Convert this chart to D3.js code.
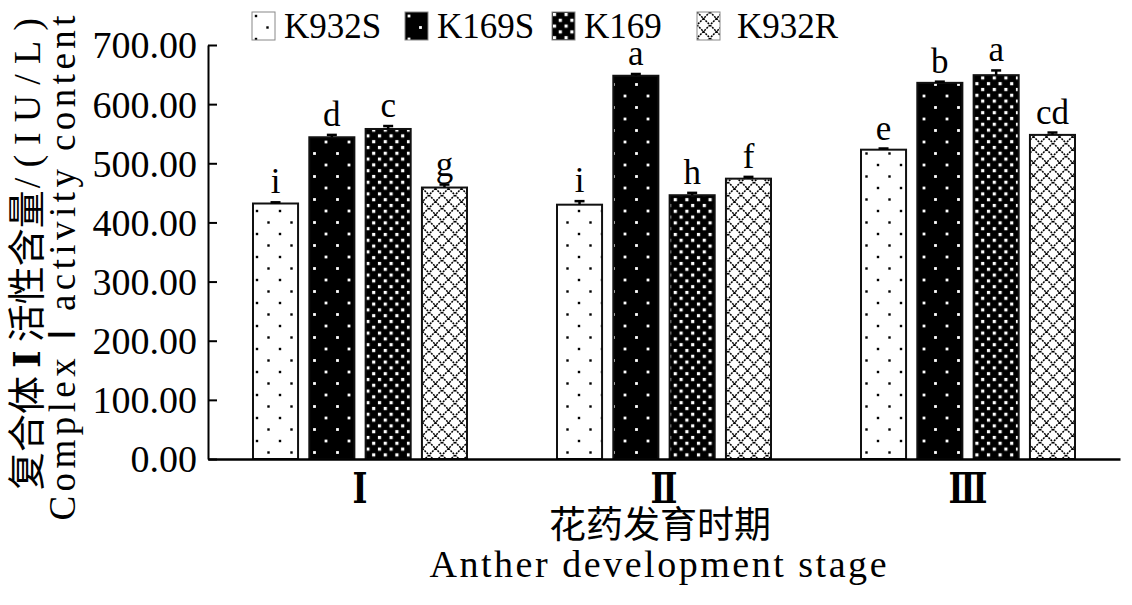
<!DOCTYPE html>
<html><head><meta charset="utf-8">
<script src="https://cdn.jsdelivr.net/npm/d3@7"></script>
<style>body{margin:0;background:#fff}</style>
</head><body>
<svg id="c" width="1132" height="605"></svg>
<script>
const categories = ["Ⅰ","Ⅱ","Ⅲ"];
const series = ["K932S","K169S","K169","K932R"];
const valuesK932S = [432, 430, 523];
const valuesK169S = [544, 648, 636];
const valuesK169 = [558, 446, 649];
const valuesK932R = [459, 474, 548];
const errK932S = [2, 6, 2];
const errK169S = [4, 3, 2];
const errK169 = [5, 4, 8];
const errK932R = [5, 3, 4];
const lettersK932S = ["i","i","e"];
const lettersK169S = ["d","a","b"];
const lettersK169 = ["c","h","a"];
const lettersK932R = ["g","f","cd"];
const yTicks = [0,100,200,300,400,500,600,700];

const valuesBySeries = {K932S: valuesK932S, K169S: valuesK169S, K169: valuesK169, K932R: valuesK932R};
const errBySeries = {K932S: errK932S, K169S: errK169S, K169: errK169, K932R: errK932R};
const lettersBySeries = {K932S: lettersK932S, K169S: lettersK169S, K169: lettersK169, K932R: lettersK932R};

const svg = d3.select("#c");
const defs = svg.append("defs");

// patterns
function dotPattern(id, size, bg, fg, r, pts) {
  const p = defs.append("pattern").attr("id", id).attr("patternUnits","userSpaceOnUse")
    .attr("width", size).attr("height", size);
  p.append("rect").attr("width", size).attr("height", size).attr("fill", bg);
  pts.forEach(([px,py]) => p.append("rect").attr("x", px - r/2).attr("y", py - r/2)
    .attr("width", r).attr("height", r).attr("fill", fg));
}
dotPattern("pK932S", 23, "#fff", "#000", 2.4, [[4,4],[15.5,15.5]]);
dotPattern("pK169S", 23, "#000", "#fff", 2.8, [[4,4],[15.5,15.5]]);
dotPattern("pK169", 11.6, "#000", "#fff", 3.2, [[2.5,2.5],[8.3,8.3]]);
{
  const s = 13;
  const p = defs.append("pattern").attr("id","pK932R").attr("patternUnits","userSpaceOnUse")
    .attr("width", s).attr("height", s);
  p.append("rect").attr("width", s).attr("height", s).attr("fill","#fff");
  p.append("path").attr("d", `M0,0L${s},${s}M${s},0L0,${s}`)
    .attr("stroke","#000").attr("stroke-width",1.5).attr("stroke-dasharray","2,1");
}

const y = d3.scaleLinear().domain([0,700]).range([459,45]);
const x = d3.scaleBand().domain(categories).range([208,1120]);
const xs = d3.scaleBand().domain(series).range([-107,107]).paddingInner(0.2);

const rows = [];
series.forEach(s => categories.forEach((c,i) => rows.push({s, c, v: valuesBySeries[s][i], e: errBySeries[s][i], l: lettersBySeries[s][i]})));
const bx = d => x(d.c) + x.bandwidth()/2 + xs(d.s);

// bars
svg.append("g").selectAll("rect").data(rows).join("rect")
  .attr("x", bx).attr("y", d => y(d.v))
  .attr("width", xs.bandwidth()).attr("height", d => y(0) - y(d.v))
  .attr("fill", d => `url(#p${d.s})`).attr("stroke","#111").attr("stroke-width",2);

// error bars
const eg = svg.append("g").attr("stroke","#000").attr("stroke-width",2.5);
eg.selectAll("line.v").data(rows).join("line").attr("class","v")
  .attr("x1", d => bx(d) + xs.bandwidth()/2).attr("x2", d => bx(d) + xs.bandwidth()/2)
  .attr("y1", d => y(d.v)).attr("y2", d => y(d.v + d.e));
eg.selectAll("line.c").data(rows).join("line").attr("class","c")
  .attr("x1", d => bx(d) + xs.bandwidth()/2 - 5).attr("x2", d => bx(d) + xs.bandwidth()/2 + 5)
  .attr("y1", d => y(d.v + d.e)).attr("y2", d => y(d.v + d.e));

// letters
svg.append("g").selectAll("text").data(rows).join("text")
  .attr("x", d => bx(d) + xs.bandwidth()/2).attr("y", d => y(d.v + d.e) - 9)
  .attr("text-anchor","middle").attr("font-family","Liberation Serif").attr("font-size",35)
  .text(d => d.l);

// y axis
const ya = svg.append("g").attr("transform","translate(208,0)")
  .call(d3.axisLeft(y).tickValues(yTicks).tickSize(-9).tickSizeOuter(0).tickPadding(11).tickFormat(d => d.toFixed(2)));
ya.select(".domain").attr("stroke","#000").attr("stroke-width",2);
ya.selectAll(".tick line").attr("stroke","#000").attr("stroke-width",2);
ya.selectAll(".tick text").attr("font-family","Liberation Serif").attr("font-size",38).attr("fill","#000").attr("dy","0.34em");

// x axis
const xa = svg.append("g").attr("transform","translate(0,459)")
  .call(d3.axisBottom(x).tickSize(0).tickPadding(0));
xa.select(".domain").attr("stroke","#000").attr("stroke-width",2.5);
xa.selectAll(".tick text").attr("font-family","DejaVu Serif").attr("font-weight","bold")
  .attr("font-size",40).attr("fill","#000").attr("y",0).attr("dy",0)
  .attr("transform","translate(0,44) scale(0.8,1.08)");

// y title, Chinese line
const t1 = svg.append("text").attr("transform","translate(40,490) rotate(-90)").attr("text-anchor","start")
  .attr("font-size",38);
t1.append("tspan").attr("font-family","Noto Sans CJK SC").text("复合体");
t1.append("tspan").attr("font-family","DejaVu Serif").attr("font-weight","bold").attr("dx",8).text("Ⅰ");
t1.append("tspan").attr("font-family","Noto Sans CJK SC").attr("dx",8).text("活性含量");
t1.append("tspan").attr("font-family","Liberation Serif").attr("dx",2)
  .attr("textLength",170).attr("lengthAdjust","spacing").text("/(IU/L)");

// y title, English line
svg.append("text").attr("transform","translate(75,268) rotate(-90)").attr("text-anchor","middle")
  .attr("font-family","Liberation Serif").attr("font-size",37)
  .attr("textLength",505).attr("lengthAdjust","spacing").text("Complex Ⅰ activity content");

// x titles
svg.append("text").attr("x",660).attr("y",538).attr("text-anchor","middle")
  .attr("font-family","Noto Sans CJK SC").attr("font-size",37).text("花药发育时期");
svg.append("text").attr("x",658).attr("y",577).attr("text-anchor","middle")
  .attr("font-family","Liberation Serif").attr("font-size",38)
  .attr("textLength",457).attr("lengthAdjust","spacing").text("Anther development stage");

// legend
const legendX = [252, 405, 552, 697];
const lg = svg.append("g").selectAll("g").data(series).join("g")
  .attr("transform", (d,i) => `translate(${legendX[i]},12)`);
lg.append("rect").attr("width",23).attr("height",28).attr("fill", d => `url(#p${d})`)
  .attr("stroke","#888").attr("stroke-width",1);
lg.append("text").attr("x", (d,i) => i === 3 ? 40 : 32).attr("y",26).attr("font-family","Liberation Serif")
  .attr("font-size",35).text(d => d);
</script>
</body></html>
